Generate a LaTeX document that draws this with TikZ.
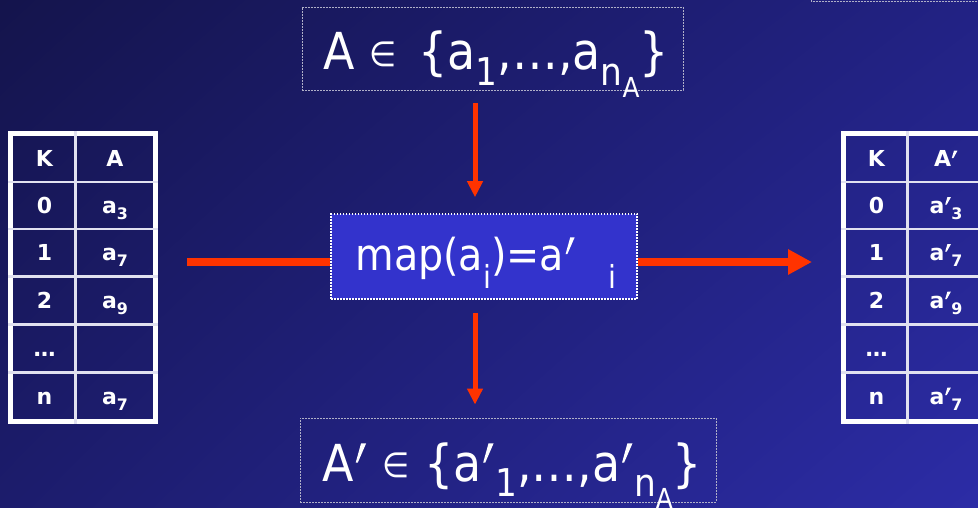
\documentclass[tikz,border=0pt]{standalone}
\usepackage{fontspec}
\setmainfont{DejaVu Sans}
\newfontfamily\condf[FakeStretch=0.9]{DejaVu Sans}
\usetikzlibrary{arrows.meta,shadings}
\definecolor{bgA}{RGB}{20,20,76}
\definecolor{bgB}{RGB}{34,34,132}
\definecolor{bgC}{RGB}{28,28,108}
\definecolor{bgD}{RGB}{44,44,166}
\definecolor{arrred}{RGB}{255,51,0}
\definecolor{mapfill}{RGB}{51,51,204}
\definecolor{dashgray}{RGB}{176,176,200}
\definecolor{gridline}{RGB}{225,225,240}
\newcommand\sbx[1]{\raisebox{-0.3em}{\scalebox{0.75}{#1}}}
\newcommand\sbm[1]{\raisebox{-0.42em}{\scalebox{0.72}{#1}}}
\newcommand\ssbx[1]{\raisebox{-0.33em}{\scalebox{0.72}{#1}}}
\newcommand\tsb[1]{\raisebox{-0.28em}{\scalebox{0.72}{#1}}}
% thin prime (large text)
\newcommand\prm{\tikz[baseline=0pt]{\fill[white] (0.14em,0.74em) -- (0.24em,0.74em) -- (0.075em,0.36em) -- (0.035em,0.36em) -- cycle; \path (0em,0em) (0.27em,0em);}}
% bold prime (table text)
\newcommand\bprm{\tikz[baseline=0pt]{\fill[white] (0.13em,0.74em) -- (0.29em,0.74em) -- (0.1em,0.4em) -- (0.03em,0.4em) -- cycle; \path (0em,0em) (0.31em,0em);}}
\newcommand\elem{\raisebox{0.06em}{\scalebox{0.68}{∈}}}
\begin{document}
\begin{tikzpicture}[x=1pt,y=-1pt,
  dashbox/.style={draw=dashgray, line width=0.8pt, dash pattern=on 2pt off 1pt, inner sep=0pt},
  bigtext/.style={text=white, font=\condf\fontsize{51}{60}\selectfont},
  maptext/.style={text=white, font=\condf\fontsize{44}{50}\selectfont},
  mapbox/.style={fill=mapfill, draw=white, line width=1.5pt, dash pattern=on 1.5pt off 1.5pt, inner sep=0pt},
  redarr/.style={draw=arrred, line width=5pt, -{Triangle[length=16pt,width=15pt]}},
  redline/.style={draw=arrred, line width=8pt},
  redarrthick/.style={draw=arrred, line width=8pt, -{Triangle[length=24pt,width=24pt]}},
  tabframe/.style={draw=white, line width=5pt},
  tabgrid/.style={draw=gridline, line width=2.5pt},
  celltext/.style={text=white, font=\bfseries\fontsize{22}{26}\selectfont, anchor=base, inner sep=0pt}]
\useasboundingbox (0,0) rectangle (978,508);
\shade[upper left=bgA, upper right=bgB, lower left=bgC, lower right=bgD] (0,0) rectangle (978,508);

% partial box at top right
\draw[dashbox] (811,-30) rectangle (1010,1.5);

% top, centre, bottom boxes
\node[dashbox, minimum width=381pt, minimum height=83pt] (top) at (492.5,48.5) {};
\node[bigtext, anchor=base west] (toptext) at (320,70) {A \elem{}\hspace{7pt} \{a\sbx{1},…,a\sbx{n\ssbx{A}}\}};

\node[mapbox, minimum width=306pt, minimum height=85pt] (map) at (484,256.5) {};
\node[maptext, anchor=base west] (maptxt) at (352,270) {map(a\sbm{i})=a\prm\hspace{33pt}\sbm{i}};

\node[dashbox, minimum width=416pt, minimum height=84pt] (bot) at (508,460) {};
\node[bigtext, anchor=base west] (bottext) at (319,481) {A\prm{} \elem{} \{a\prm\sbx{1},…,a\prm\sbx{n\ssbx{A}}\}};

% left table
\node[tabframe, minimum width=145pt, minimum height=288pt, inner sep=0pt] (ltab) at (83,277.5) {};
\draw[tabgrid] (ltab.north -| 75.5,0) -- (ltab.south -| 75.5,0);
\foreach \yy in {182,229,276.5,324.5,372.5}
  \draw[tabgrid] (ltab.west |- 0,\yy) -- (ltab.east |- 0,\yy);

% right table
\node[tabframe, minimum width=150pt, minimum height=288pt, inner sep=0pt] (rtab) at (918.5,277.5) {};
\draw[tabgrid] (rtab.north -| 907.5,0) -- (rtab.south -| 907.5,0);
\foreach \yy in {182,229,276.5,324.5,372.5}
  \draw[tabgrid] (rtab.west |- 0,\yy) -- (rtab.east |- 0,\yy);

% left table texts
\node[celltext] (lk) at (44.5,167) {K};
\node[celltext] (la) at (115,167) {A};
\node[celltext] (l0) at (44.5,213.5) {0};
\node[celltext] (l0a) at (115,213.5) {a\tsb{3}};
\node[celltext] (l1) at (44.5,260.5) {1};
\node[celltext] (l1a) at (115,260.5) {a\tsb{7}};
\node[celltext] (l2) at (44.5,308) {2};
\node[celltext] (l2a) at (115,308) {a\tsb{9}};
\node[celltext] (ld) at (44.5,356) {…};
\node[celltext] (ln) at (44.5,404) {n};
\node[celltext] (lna) at (115,404) {a\tsb{7}};

% right table texts
\node[celltext] (rk) at (876.5,167) {K};
\node[celltext] (ra) at (946,167) {A\bprm};
\node[celltext] (r0) at (876.5,213.5) {0};
\node[celltext] (r0a) at (946,213.5) {a\bprm\tsb{3}};
\node[celltext] (r1) at (876.5,260.5) {1};
\node[celltext] (r1a) at (946,260.5) {a\bprm\tsb{7}};
\node[celltext] (r2) at (876.5,308) {2};
\node[celltext] (r2a) at (946,308) {a\bprm\tsb{9}};
\node[celltext] (rd) at (876.5,356) {…};
\node[celltext] (rn) at (876.5,404) {n};
\node[celltext] (rna) at (946,404) {a\bprm\tsb{7}};

% connectors
\coordinate (ax) at (475,0);
\coordinate (ay) at (0,262);
\draw[redarr, shorten <=13pt, shorten >=16pt] (top.south -| ax) -- (map.north -| ax);
\draw[redarr, shorten <=13pt, shorten >=13pt] (map.south -| ax) -- (bot.north -| ax);
\draw[redline, shorten <=29pt] (ltab.east |- ay) -- (map.west |- ay);
\draw[redarrthick, shorten >=29pt] (map.east |- ay) -- (rtab.west |- ay);
\end{tikzpicture}
\end{document}
